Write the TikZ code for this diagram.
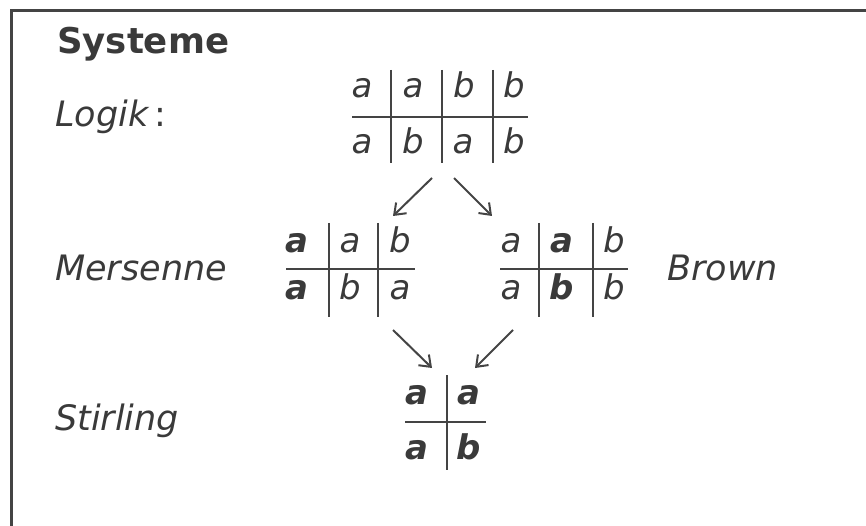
\documentclass[tikz,border=0pt]{standalone}
\usepackage{fontspec}
\setmainfont{DejaVu Sans}
\usetikzlibrary{arrows.meta}
\definecolor{ink}{HTML}{3A3A3A}
\definecolor{rule}{HTML}{444444}
\begin{document}
\begin{tikzpicture}[x=1pt,y=-1pt,
  lab/.style={anchor=base west,inner sep=0pt,text=ink,font=\fontsize{35}{40}\selectfont\itshape},
  ttl/.style={anchor=base west,inner sep=0pt,text=ink,font=\fontsize{35.5}{40}\selectfont\bfseries},
  let/.style={anchor=base,inner sep=0pt,text=ink,font=\fontsize{34}{38}\selectfont\itshape},
  blet/.style={let,font=\fontsize{34}{38}\selectfont\bfseries\itshape},
  grid/.style={draw=rule,line width=2pt},
  arr/.style={draw=rule,line width=2pt,-{Straight Barb[length=10pt,width=15pt,line width=2pt]}},
  frame/.style={draw=rule,line width=3pt}]
\useasboundingbox (0,0) rectangle (866,526);
% frame
\coordinate (fbl) at (11,540);
\coordinate (ftl) at (11,11);
\coordinate (ftr) at (880,11);
\draw[frame] (fbl) -- (ftl) -- (ftr);
% labels
\node[ttl] (systeme) at (57,54) {Systeme};
\node[lab] (logik) at (55,127) {Logik\,{\upshape:}};
\node[lab] (mersenne) at (55,280) {Mersenne};
\node[lab] (brown) at (667,280) {Brown};
\node[lab] (stirling) at (55,430) {Stirling};
% Logik table
\draw[grid] (352,117) -- (528,117);
\draw[grid] (391,70) -- (391,163);
\draw[grid] (442,70) -- (442,163);
\draw[grid] (493,70) -- (493,163);
\node[let] (l11) at (362,98) {a};
\node[let] (l12) at (413,98) {a};
\node[let] (l13) at (464,98) {b};
\node[let] (l14) at (514,98) {b};
\node[let] (l21) at (362,154) {a};
\node[let] (l22) at (413,154) {b};
\node[let] (l23) at (463,154) {a};
\node[let] (l24) at (514,154) {b};
% Mersenne table
\draw[grid] (286,269) -- (415,269);
\draw[grid] (329,223) -- (329,317);
\draw[grid] (378,223) -- (378,317);
\node[blet] (m11) at (297,253) {a};
\node[let] (m12) at (350,253) {a};
\node[let] (m13) at (400,253) {b};
\node[blet] (m21) at (297,299) {a};
\node[let] (m22) at (350,299) {b};
\node[let] (m23) at (400,299) {a};
% Brown table
\draw[grid] (500,269) -- (628,269);
\draw[grid] (539,223) -- (539,317);
\draw[grid] (593,223) -- (593,317);
\node[let] (b11) at (511,253) {a};
\node[blet] (b12) at (562,253) {a};
\node[let] (b13) at (614,253) {b};
\node[let] (b21) at (511,299) {a};
\node[blet] (b22) at (562,299) {b};
\node[let] (b23) at (614,299) {b};
% Stirling table
\draw[grid] (405,422) -- (486,422);
\draw[grid] (447,375) -- (447,470);
\node[blet] (s11) at (417,404) {a};
\node[blet] (s12) at (469,404) {a};
\node[blet] (s21) at (417,459) {a};
\node[blet] (s22) at (469,459) {b};
% arrows
\coordinate (la) at (432,178); \coordinate (ma) at (393,216);
\coordinate (lb) at (454,178); \coordinate (ba) at (492,216);
\coordinate (mb) at (393,330); \coordinate (sa) at (432,368);
\coordinate (bb) at (513,330); \coordinate (sb) at (475,368);
\draw[arr] (la) -- (ma);
\draw[arr] (lb) -- (ba);
\draw[arr] (mb) -- (sa);
\draw[arr] (bb) -- (sb);
\end{tikzpicture}
\end{document}
